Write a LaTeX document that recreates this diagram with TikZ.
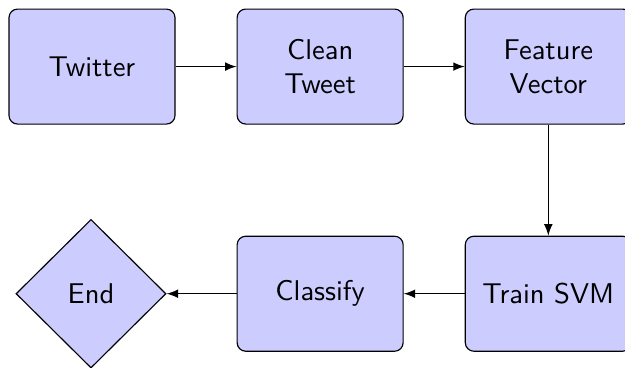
\documentclass[tikz,border=0pt]{standalone}
\usepackage{tikz}
\usetikzlibrary{arrows, positioning, shapes.geometric}
\tikzset{every picture/.style={font issue=\sffamily},
         font issue/.style={execute at begin picture={#1\selectfont}}
        }
\tikzset{
  stepbox/.style={draw, rounded corners=3pt, fill=blue!20, align=center,
    minimum width=58.1pt, minimum height=40.25pt},
  endbox/.style={draw, diamond, fill=blue!20, inner sep=0pt,
    minimum width=52.5pt, minimum height=52pt},
  flow/.style={-latex}
}

\begin{document}
\begin{tikzpicture}[node distance = 21.35pt]
\useasboundingbox (0,0) rectangle (218.75pt,-128.45pt);
\node[stepbox] (twitter) at (32.2pt,-23.3pt) {Twitter};
\node[stepbox, right = of twitter] (clean) {Clean\\Tweet};
\node[stepbox, right = of clean] (feature) {Feature\\Vector};
\node[stepbox, below = 38.85pt of feature] (svm) {Train SVM};
\node[stepbox, left = of svm] (classify) {Classify};
\node[endbox, left = 24.5pt of classify] (end) {End};

\draw[flow] (twitter) -- (clean);
\draw[flow] (clean) -- (feature);
\draw[flow] (feature) -- (svm);
\draw[flow] (svm) -- (classify);
\draw[flow] (classify) -- (end);
\end{tikzpicture}
\end{document}
